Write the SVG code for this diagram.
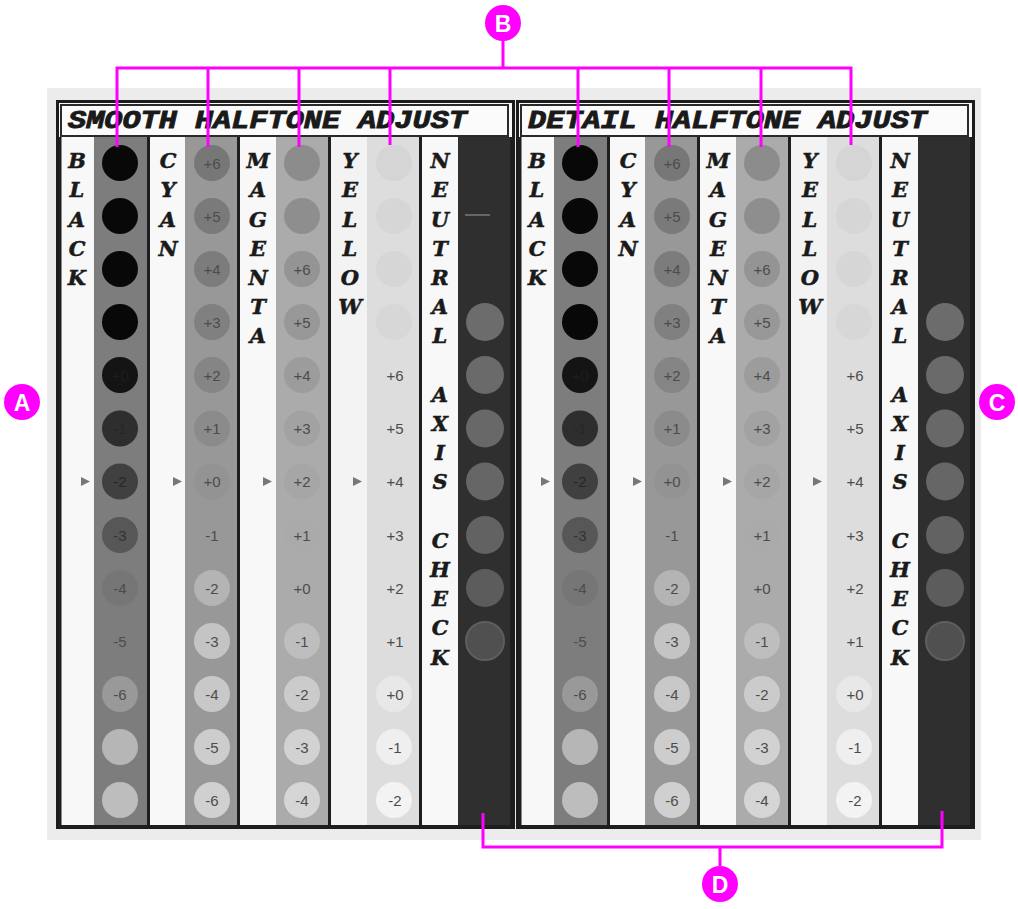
<svg xmlns="http://www.w3.org/2000/svg" xmlns:xlink="http://www.w3.org/1999/xlink" width="1018" height="909" viewBox="0 0 1018 909">
<style>
.bg{fill:#ececec}
.frame{fill:#f9f9f9;stroke:#1c1c1c;stroke-width:3}
.tbox{fill:#fbfbfb;stroke:#2a2a2a;stroke-width:2}
.title{font-family:"Liberation Mono","Courier New",monospace;font-weight:bold;font-style:italic;font-size:26px;fill:#1a1a1a;stroke:#1a1a1a;stroke-width:0.9}
.lab{fill:#f8f8f8}
.div{stroke:#1e1e1e;stroke-width:3}
.vl{font-family:"DejaVu Serif","Liberation Serif",serif;font-weight:bold;font-style:italic;font-size:21px;fill:#1a1a1a;stroke:#1a1a1a;stroke-width:0.5;text-anchor:middle}
.n{font-family:"Liberation Sans",Arial,sans-serif;font-size:15px;fill:#4c4c4c;text-anchor:middle}
.nd{fill:#262626}
.tri{fill:#777}
.mag{fill:#ff00ff}
.ml{stroke:#ff00ff;stroke-width:3;fill:none}
.ct{font-family:"Liberation Sans",Arial,sans-serif;font-weight:bold;font-size:23px;fill:#ffffff;text-anchor:middle}
</style>
<defs>
<g id="body">
<rect class="frame" x="57.5" y="101.5" width="456" height="726"/>
<rect class="tbox" x="61" y="105" width="447" height="31"/>
<rect class="lab" x="60" y="137" width="34" height="689"/>
<rect class="lab" x="150" y="137" width="35" height="689"/>
<rect class="lab" x="240" y="137" width="36" height="689"/>
<rect x="331" y="137" width="36" height="689" fill="#f3f3f3"/>
<rect class="lab" x="422" y="137" width="36" height="689"/>
<rect x="94" y="137" width="54" height="689" fill="#7d7d7d"/>
<rect x="185" y="137" width="53" height="689" fill="#989898"/>
<rect x="276" y="137" width="53" height="689" fill="#ababab"/>
<rect x="367" y="137" width="53" height="689" fill="#dddddd"/>
<rect x="458" y="137" width="53" height="689" fill="#2f2f2f"/>
<line class="div" x1="148.5" y1="137" x2="148.5" y2="827"/>
<line class="div" x1="238.5" y1="137" x2="238.5" y2="827"/>
<line class="div" x1="329.5" y1="137" x2="329.5" y2="827"/>
<line class="div" x1="420.5" y1="137" x2="420.5" y2="827"/>
<line class="div" x1="60" y1="137" x2="60" y2="827"/>
<line class="div" x1="511.5" y1="137" x2="511.5" y2="827"/>
<line class="div" x1="58" y1="826.5" x2="513" y2="826.5"/>
<circle cx="120" cy="163" r="18" fill="#080808"/>
<circle cx="120" cy="216" r="18" fill="#080808"/>
<circle cx="120" cy="269" r="18" fill="#080808"/>
<circle cx="120" cy="322" r="18" fill="#080808"/>
<circle cx="120" cy="375" r="18" fill="#141414"/>
<circle cx="120" cy="428.5" r="18" fill="#2e2e2e"/>
<circle cx="120" cy="481.5" r="18" fill="#404040"/>
<circle cx="120" cy="535" r="18" fill="#575757"/>
<circle cx="120" cy="588" r="18" fill="#767676"/>
<circle cx="120" cy="694" r="18" fill="#999999"/>
<circle cx="120" cy="747" r="18" fill="#b6b6b6"/>
<circle cx="120" cy="800" r="18" fill="#bdbdbd"/>
<circle cx="212" cy="163" r="18" fill="#777777"/>
<circle cx="212" cy="216" r="18" fill="#7a7a7a"/>
<circle cx="212" cy="269" r="18" fill="#7c7c7c"/>
<circle cx="212" cy="322" r="18" fill="#808080"/>
<circle cx="212" cy="375" r="18" fill="#858585"/>
<circle cx="212" cy="428.5" r="18" fill="#8b8b8b"/>
<circle cx="212" cy="481.5" r="18" fill="#939393"/>
<circle cx="212" cy="588" r="18" fill="#b4b4b4"/>
<circle cx="212" cy="641" r="18" fill="#c4c4c4"/>
<circle cx="212" cy="694" r="18" fill="#c8c8c8"/>
<circle cx="212" cy="747" r="18" fill="#cdcdcd"/>
<circle cx="212" cy="800" r="18" fill="#d0d0d0"/>
<circle cx="302" cy="163" r="18" fill="#8c8c8c"/>
<circle cx="302" cy="216" r="18" fill="#8e8e8e"/>
<circle cx="302" cy="269" r="18" fill="#949494"/>
<circle cx="302" cy="322" r="18" fill="#989898"/>
<circle cx="302" cy="375" r="18" fill="#9c9c9c"/>
<circle cx="302" cy="428.5" r="18" fill="#a2a2a2"/>
<circle cx="302" cy="481.5" r="18" fill="#a6a6a6"/>
<circle cx="302" cy="535" r="18" fill="#aaaaaa"/>
<circle cx="302" cy="641" r="18" fill="#bebebe"/>
<circle cx="302" cy="694" r="18" fill="#cbcbcb"/>
<circle cx="302" cy="747" r="18" fill="#d2d2d2"/>
<circle cx="302" cy="800" r="18" fill="#d5d5d5"/>
<circle cx="394" cy="163" r="18" fill="#d5d5d5"/>
<circle cx="394" cy="216" r="18" fill="#d6d6d6"/>
<circle cx="394" cy="269" r="18" fill="#d6d6d6"/>
<circle cx="394" cy="322" r="18" fill="#d7d7d7"/>
<circle cx="394" cy="694" r="18" fill="#e8e8e8"/>
<circle cx="394" cy="747" r="18" fill="#efefef"/>
<circle cx="394" cy="800" r="18" fill="#f3f3f3"/>
<circle cx="485" cy="322" r="19" fill="#6c6c6c"/>
<circle cx="485" cy="375" r="19" fill="#6a6a6a"/>
<circle cx="485" cy="428.5" r="19" fill="#686868"/>
<circle cx="485" cy="481.5" r="19" fill="#666666"/>
<circle cx="485" cy="535" r="19" fill="#626262"/>
<circle cx="485" cy="588" r="19" fill="#5c5c5c"/>
<circle cx="485" cy="641" r="19" fill="#505050" stroke="#5e5e5e" stroke-width="2"/>
<g class="vl">
<text x="77" y="168">B</text><text x="77" y="197">L</text><text x="77" y="226.5">A</text><text x="77" y="255.5">C</text><text x="77" y="285">K</text>
<text x="168" y="168">C</text><text x="168" y="197">Y</text><text x="168" y="226.5">A</text><text x="168" y="255.5">N</text>
<text x="258" y="168">M</text><text x="258" y="197">A</text><text x="258" y="226.5">G</text><text x="258" y="255.5">E</text><text x="258" y="285">N</text><text x="258" y="314">T</text><text x="258" y="343">A</text>
<text x="350" y="168">Y</text><text x="350" y="197">E</text><text x="350" y="226.5">L</text><text x="350" y="255.5">L</text><text x="350" y="285">O</text><text x="350" y="314">W</text>
<text x="440" y="168">N</text><text x="440" y="197">E</text><text x="440" y="226.5">U</text><text x="440" y="255.5">T</text><text x="440" y="285">R</text><text x="440" y="314">A</text><text x="440" y="343">L</text>
<text x="440" y="401.5">A</text><text x="440" y="431">X</text><text x="440" y="460">I</text><text x="440" y="489">S</text>
<text x="440" y="547.5">C</text><text x="440" y="577">H</text><text x="440" y="606">E</text><text x="440" y="635">C</text><text x="440" y="664.5">K</text>
</g>
<polygon class="tri" points="81,477 90,481.5 81,486"/>
<polygon class="tri" points="173,477 182,481.5 173,486"/>
<polygon class="tri" points="263,477 272,481.5 263,486"/>
<polygon class="tri" points="353,477 362,481.5 353,486"/>
<g class="n">
<text class="nd" x="120" y="380.5" fill-opacity="0.5">+0</text>
<text class="nd" x="120" y="434">-1</text>
<text class="nd" x="120" y="487">-2</text>
<text x="120" y="540.5" fill="#333">-3</text>
<text x="120" y="593.5">-4</text>
<text x="120" y="646.5">-5</text>
<text x="120" y="699.5">-6</text>
<text x="212" y="168.5">+6</text>
<text x="212" y="221.5">+5</text>
<text x="212" y="274.5">+4</text>
<text x="212" y="327.5">+3</text>
<text x="212" y="380.5">+2</text>
<text x="212" y="434">+1</text>
<text x="212" y="487">+0</text>
<text x="212" y="540.5">-1</text>
<text x="212" y="593.5">-2</text>
<text x="212" y="646.5">-3</text>
<text x="212" y="699.5">-4</text>
<text x="212" y="752.5">-5</text>
<text x="212" y="805.5">-6</text>
<text x="302" y="274.5">+6</text>
<text x="302" y="327.5">+5</text>
<text x="302" y="380.5">+4</text>
<text x="302" y="434">+3</text>
<text x="302" y="487">+2</text>
<text x="302" y="540.5">+1</text>
<text x="302" y="593.5">+0</text>
<text x="302" y="646.5">-1</text>
<text x="302" y="699.5">-2</text>
<text x="302" y="752.5">-3</text>
<text x="302" y="805.5">-4</text>
<text x="395" y="380.5">+6</text>
<text x="395" y="434">+5</text>
<text x="395" y="487">+4</text>
<text x="395" y="540.5">+3</text>
<text x="395" y="593.5">+2</text>
<text x="395" y="646.5">+1</text>
<text x="395" y="699.5">+0</text>
<text x="395" y="752.5">-1</text>
<text x="395" y="805.5">-2</text>
</g>
</g>
</defs>
<rect class="bg" x="47" y="88" width="934" height="752"/>
<g id="panel-smooth">
<use xlink:href="#body" href="#body"/>
<text class="title" x="68" y="128" textLength="399" lengthAdjust="spacingAndGlyphs">SMOOTH HALFTONE ADJUST</text>
<line x1="465" y1="215" x2="490" y2="215" stroke="#7a7a7a" stroke-width="1.5"/>
</g>
<g id="panel-detail">
<use xlink:href="#body" href="#body" transform="translate(460,0)"/>
<text class="title" x="528" y="128" textLength="399" lengthAdjust="spacingAndGlyphs">DETAIL HALFTONE ADJUST</text>
</g>
<g id="connectors">
<path class="ml" d="M503,40 V68 M117,147 V68 H851 V145 M208,147 V68 M299,147 V68 M390,145 V68 M578,147 V68 M669,147 V68 M761,147 V68"/>
<path class="ml" d="M483,813 V847 H942 V811 M720,847 V866"/>
</g>
<g id="callout-A"><circle class="mag" cx="22" cy="402" r="18"/><text class="ct" x="22" y="410.5">A</text></g>
<g id="callout-B"><circle class="mag" cx="503" cy="23" r="18"/><text class="ct" x="503" y="31.5">B</text></g>
<g id="callout-C"><circle class="mag" cx="997" cy="402" r="18"/><text class="ct" x="997" y="410.5">C</text></g>
<g id="callout-D"><circle class="mag" cx="720" cy="884" r="18"/><text class="ct" x="720" y="892.5">D</text></g>
</svg>
